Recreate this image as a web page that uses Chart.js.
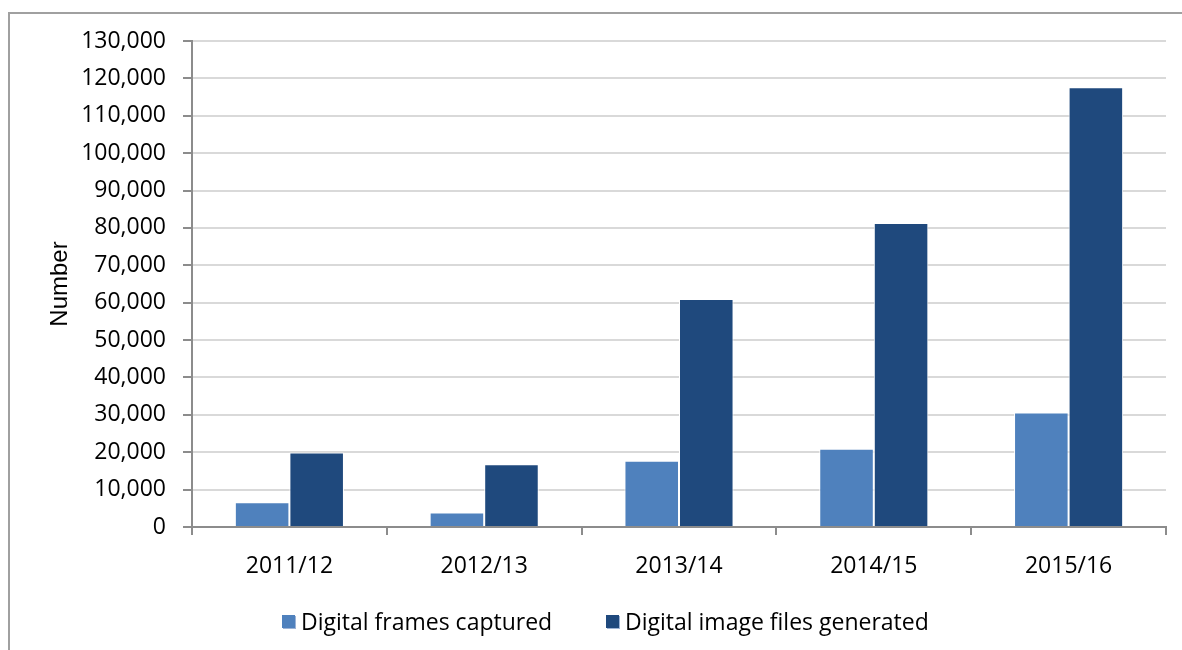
<!DOCTYPE html>
<html>
<head>
<meta charset="utf-8">
<script src="https://cdn.jsdelivr.net/npm/chart.js@4.4.0/dist/chart.umd.min.js"></script>
<style>
  html, body { margin: 0; padding: 0; background: #fff; overflow: hidden; }
  #frame {
    position: absolute; left: 8px; top: 12px;
    width: 2000px; height: 2000px;
    border: 2px solid #a0a0a0; box-sizing: border-box;
  }
  #wrap { position: absolute; left: 0; top: 0; width: 1182px; height: 650px; }
  .leg {
    position: absolute; top: 605px; height: 32px;
    display: flex; align-items: center;
    font-family: "Open Sans", sans-serif; font-size: 23px; color: #000;
    white-space: nowrap;
  }
  .leg i {
    display: inline-block; width: 13px; height: 13px; margin-right: 6px;
    box-shadow: 1px 1px 0 #9db3d6;
  }
</style>
</head>
<body>
<div id="frame"></div>
<div id="wrap"><canvas id="chart" width="1182" height="650"></canvas></div>
<div id="legend"></div>
<script>
// data
const years = ["2011/12", "2012/13", "2013/14", "2014/15", "2015/16"];
const seriesNames = ["Digital frames captured", "Digital image files generated"];
const framesCaptured = [6600, 3900, 17700, 20900, 30600];
const imageFiles = [19900, 16800, 61000, 81300, 117600];

const LIGHT = "#4f81bd";
const DARK = "#1f497d";
const GRID = "#d9d9d9";
const AXIS = "#8c8c8c";

const tickFont = { family: "Open Sans", size: 23 };

const chart = new Chart(document.getElementById("chart"), {
  type: "bar",
  data: {
    labels: years,
    datasets: [
      {
        label: seriesNames[0],
        data: framesCaptured,
        backgroundColor: LIGHT,
        borderColor: "#ffffff",
        borderWidth: 1,
        barPercentage: 1,
        categoryPercentage: 0.56
      },
      {
        label: seriesNames[1],
        data: imageFiles,
        backgroundColor: DARK,
        borderColor: "#ffffff",
        borderWidth: 1,
        barPercentage: 1,
        categoryPercentage: 0.56
      }
    ]
  },
  options: {
    responsive: false,
    animation: false,
    devicePixelRatio: 1,
    layout: { padding: { left: 40, right: 16, top: 41, bottom: 0 } },
    plugins: {
      tooltip: { enabled: false },
      legend: { display: false }
    },
    scales: {
      x: {
        offset: true,
        grid: {
          offset: true,
          drawOnChartArea: false,
          tickLength: 8,
          tickColor: AXIS,
          lineWidth: 2
        },
        border: { color: AXIS, width: 2 },
        ticks: { color: "#000", font: tickFont, padding: 18 },
        afterFit(scale) { scale.height = 123; }
      },
      y: {
        min: 0,
        max: 130000,
        ticks: {
          stepSize: 10000,
          color: "#000",
          font: tickFont,
          padding: 17,
          callback: v => v.toLocaleString("en-US")
        },
        grid: {
          color: GRID,
          lineWidth: 2,
          tickLength: 9,
          tickColor: AXIS
        },
        border: { color: AXIS, width: 2 },
        title: {
          display: true,
          text: "Number",
          color: "#000",
          font: { family: "Liberation Sans", size: 24 },
          padding: { top: 6, bottom: 0 }
        },
        afterFit(scale) { scale.width = 152; }
      }
    }
  }
});

// legend built from the chart's datasets
const legendLeft = [282, 606];
const legend = document.getElementById("legend");
chart.data.datasets.forEach((ds, i) => {
  const item = document.createElement("div");
  item.className = "leg";
  item.style.left = legendLeft[i] + "px";
  item.innerHTML = `<i style="background:${ds.backgroundColor}"></i>${ds.label}`;
  legend.appendChild(item);
});
</script>
</body>
</html>
